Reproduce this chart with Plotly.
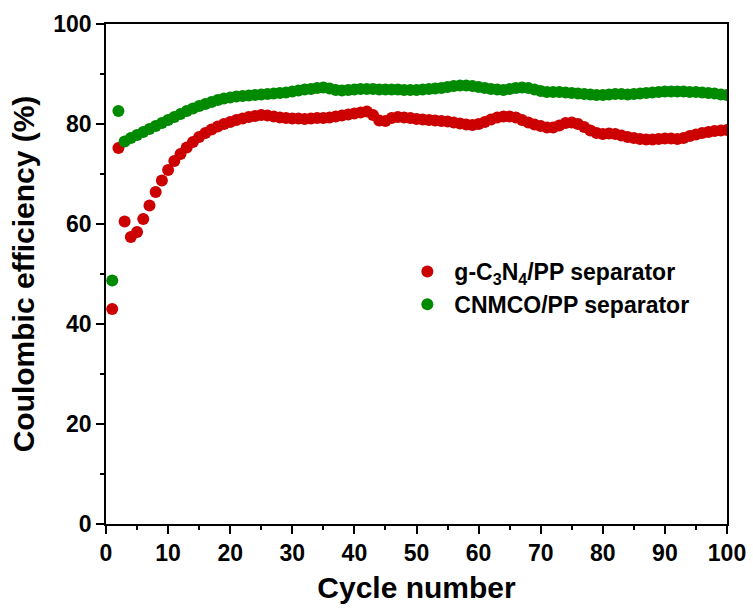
import plotly.graph_objects as go

cycles = list(range(1, 101))

g_c3n4_pp = [
    43.0, 75.2, 60.5, 57.4, 58.4, 61.0, 63.7, 66.4, 68.7, 70.8,
    72.6, 74.0, 75.3, 76.4, 77.4, 78.2, 78.9, 79.5, 80.0, 80.4,
    80.8, 81.1, 81.4, 81.6, 81.8, 81.7, 81.5, 81.3, 81.2, 81.1,
    81.1, 81.0, 81.1, 81.2, 81.2, 81.3, 81.5, 81.7, 81.9, 82.1,
    82.3, 82.5, 81.8, 80.7, 80.6, 81.2, 81.4, 81.3, 81.2, 81.0,
    80.9, 80.8, 80.7, 80.6, 80.5, 80.3, 80.1, 79.9, 79.8, 80.0,
    80.4, 80.9, 81.3, 81.5, 81.5, 81.3, 80.8, 80.3, 79.9, 79.6,
    79.3, 79.3, 79.7, 80.2, 80.3, 80.0, 79.4, 78.7, 78.2, 78.0,
    78.1, 78.0, 77.7, 77.4, 77.2, 77.0, 76.9, 76.9, 77.0, 77.1,
    77.1, 77.0, 77.2, 77.6, 77.9, 78.2, 78.4, 78.6, 78.7, 78.8,
]

cnmco_pp = [
    48.7, 82.6, 76.5, 77.2, 77.8, 78.4, 79.0, 79.6, 80.2, 80.8,
    81.4, 82.0, 82.6, 83.1, 83.6, 84.0, 84.4, 84.8, 85.1, 85.3,
    85.5, 85.6, 85.7, 85.8, 85.9, 86.0, 86.1, 86.2, 86.3, 86.5,
    86.7, 86.9, 87.0, 87.2, 87.3, 87.1, 86.8, 86.7, 86.8, 86.9,
    87.0, 87.0, 87.0, 86.9, 86.9, 86.9, 86.9, 86.8, 86.8, 86.8,
    86.9, 87.0, 87.1, 87.2, 87.4, 87.6, 87.7, 87.7, 87.6, 87.4,
    87.2, 87.0, 86.9, 86.8, 87.0, 87.2, 87.3, 87.2, 86.9, 86.6,
    86.4, 86.4, 86.4, 86.3, 86.2, 86.1, 86.0, 85.9, 85.8, 85.8,
    85.9, 86.0, 86.0, 85.9, 86.0, 86.1, 86.2, 86.3, 86.4, 86.5,
    86.5, 86.5, 86.5, 86.4, 86.4, 86.3, 86.2, 86.1, 85.9, 85.8,
]

series_names = ["g-C<sub>3</sub>N<sub>4</sub>/PP separator", "CNMCO/PP separator"]
x_ticks = [0, 10, 20, 30, 40, 50, 60, 70, 80, 90, 100]
y_ticks = [0, 20, 40, 60, 80, 100]

FONT = "Liberation Sans, Arial, sans-serif"
RED = "#cc0000"
GREEN = "#008a00"

fig = go.Figure()
fig.add_trace(go.Scatter(x=cycles, y=g_c3n4_pp, mode="markers", name=series_names[0],
                         marker=dict(color=RED, size=12, line=dict(width=0))))
fig.add_trace(go.Scatter(x=cycles, y=cnmco_pp, mode="markers", name=series_names[1],
                         marker=dict(color=GREEN, size=12, line=dict(width=0))))

axis_common = dict(
    showline=True, linecolor="black", linewidth=1.5, mirror=True,
    ticks="outside", ticklen=8, tickwidth=1.5, tickcolor="black",
    showgrid=False, zeroline=False, automargin=False,
    tickfont=dict(family=FONT, size=23, color="black", weight="bold"),
)

fig.update_xaxes(range=[0, 100], tickvals=x_ticks,
                 minor=dict(dtick=5, ticks="outside", ticklen=4, tickwidth=1.5, tickcolor="black"),
                 title=dict(text="Cycle number", font=dict(family=FONT, size=30, color="black", weight="bold"),
                            standoff=12),
                 **axis_common)
fig.update_yaxes(range=[0, 100], tickvals=y_ticks,
                 minor=dict(dtick=10, ticks="outside", ticklen=4, tickwidth=1.5, tickcolor="black"),
                 title=dict(text="Coulombic efficiency (%)", font=dict(family=FONT, size=30, color="black", weight="bold"),
                            standoff=10),
                 **axis_common)

fig.update_layout(
    width=753, height=610,
    margin=dict(l=106, r=26, t=24, b=86),
    plot_bgcolor="white", paper_bgcolor="white",
    legend=dict(x=0.474, y=0.548, xanchor="left", yanchor="top",
                bgcolor="rgba(0,0,0,0)", itemsizing="trace", itemwidth=44,
                font=dict(family=FONT, size=23, color="black", weight="bold")),
    showlegend=True,
)

fig.write_html("out.html")
